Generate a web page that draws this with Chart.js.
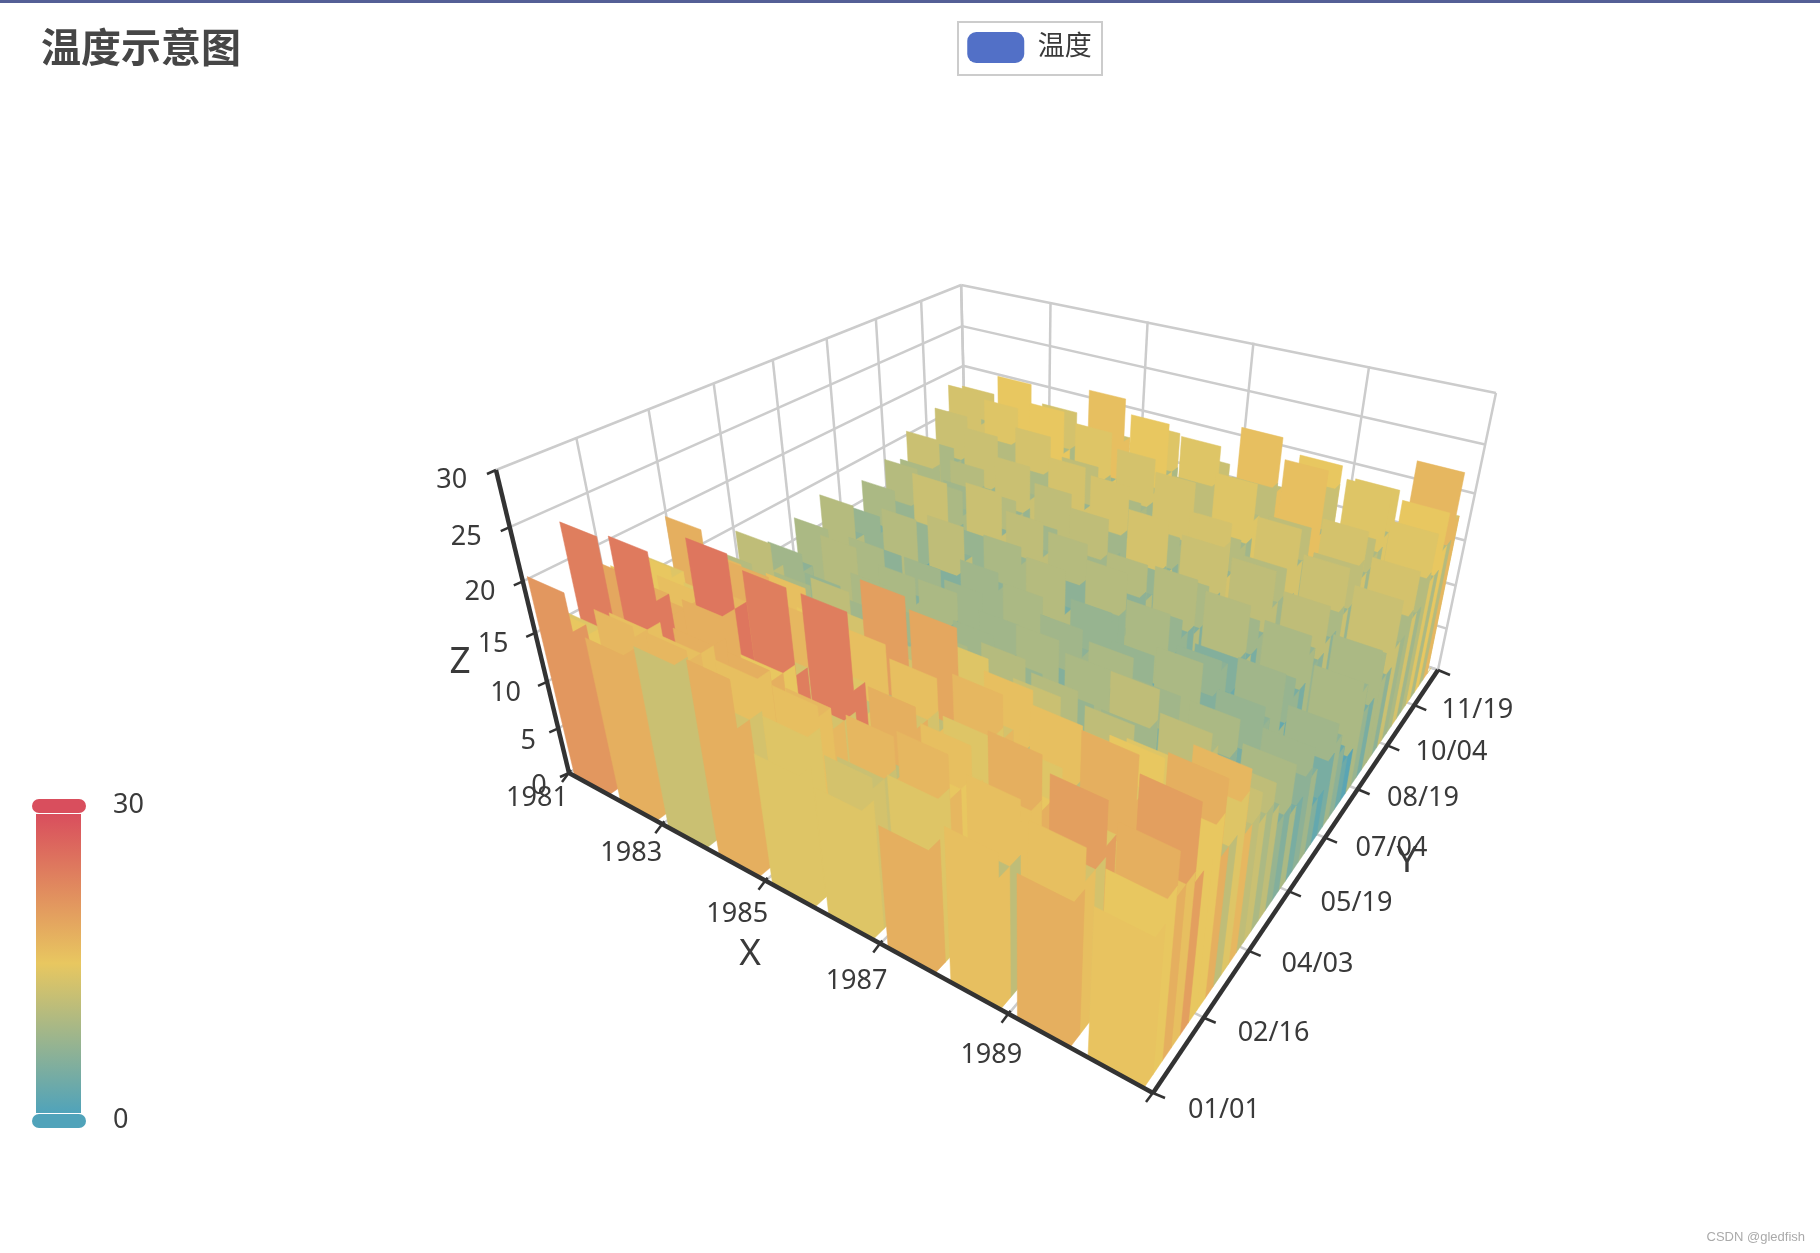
<!DOCTYPE html>
<html>
<head>
<meta charset="utf-8">
<title>温度示意图</title>
<script src="https://cdn.jsdelivr.net/npm/chart.js@4/dist/chart.umd.js"></script>
<style>
html, body { margin: 0; background: #fff; }
canvas { display: block; }
</style>
</head>
<body>
<canvas id="myChart" width="1820" height="1253"></canvas>
<script>
// temperature, one value every 8 days starting 01/01
const years = [1981, 1982, 1983, 1984, 1985, 1986, 1987, 1988, 1989, 1990];
const t1981 = [20.7,17,16,24,15,19,18,16,18,17,14,20,13,15,12,14,11,15,12,8,12,10,7,13,8,9,14,10,6,11,9,13,7,10,14,9,13,16,10,14,12,17,13,19,15,18];
const t1982 = [17,19,18,24.5,20,18,19,15,17,14,19,13,16,11,14,10,13,9,8,11,7,14,9,5,12,7,10,6,13,7,11,8,15,9,13,10,12,14,11,17,13,15,19,14,21,16];
const t1983 = [18.4,19,18,18,20,25,20,16,21,15,13,18,12,14,11,15,9,12,8,13,10,6,12,9,5,11,6,9,14,10,7,11,9,15,10,13,11,16,12,14,18,13,20,15,19,16];
const t1984 = [19.5,15,18,18,17,24,16,20,14,18,15,12,16,13,10,14,11,8,12,7,10,13,5,7,11,6,12,10,7,13,11,8,14,10,12,9,15,11,17,12,16,14,19,13,22,17];
const t1985 = [13.3,16,18,17,15,24,17,14,19,13,22,15,11,14,12,9,13,10,7,12,6,8,11,4,8,12,9,7,13,8,10,14,8,11,15,10,12,17,11,14,13,18,14,21,15,19];
const t1986 = [12.9,15,14,17,13,18,16,19,14,22,15,13,17,11,13,10,14,8,11,7,13,5,8,12,9,7,5,11,10,14,7,10,13,9,11,16,10,13,12,18,14,12,16,20,14,17];
const t1987 = [12.3,16,19,15,18,14,17,20,16,13,18,14,12,15,10,14,9,11,8,13,6,9,12,8,4,10,6,13,8,11,9,14,8,12,10,15,17,11,14,13,19,15,13,17,22,16];
const t1988 = [15.3,13,18,16,20,15,17,14,19,16,12,15,13,11,14,9,12,15,7,9,12,5,7,13,6,8,11,10,6,9,14,8,11,9,15,11,14,10,17,13,16,12,21,14,18,20];
const t1989 = [14.3,18,15,20,16,14,21,17,15,18,14,16,12,13,11,15,13,8,10,13,6,8,4,11,9,5,12,6,10,8,13,11,9,14,10,12,16,11,15,18,13,16,14,20,15,19];
const t1990 = [14.8,17,20,16,22,15,18,21,14,17,19,13,15,12,14,11,9,13,8,10,12,9,5,8,11,9,7,5,12,11,8,13,12,9,16,11,13,17,12,15,19,14,20,16,23,18];
const temps = [t1981, t1982, t1983, t1984, t1985, t1986, t1987, t1988, t1989, t1990];
// colour seen on the front plate of each year, and how far the colours sit from the heights along the year
const firstDayTone = [21, 18, 12, 18, 14, 14, 18, 16, 18, 15.5];
const toneShift = [0,-2,-2,0,-2,0,-3,-3,-3,-3,-2,-2,-3,-3,-3,-4,-4,-4,-4,-4,-4,-4,-3,-4,-3,-3,-4,-4,-3,-4,-4,-4,-3,-3,-4,-3,-4,-4,-4,-5,-5,-5,-5,-6,-6,-5];

const xTickLabels = ['1981', '1983', '1985', '1987', '1989'];
const yTickLabels = ['01/01', '02/16', '04/03', '05/19', '07/04', '08/19', '10/04', '11/19'];
const zTicks = [0, 5, 10, 15, 20, 25, 30];

const yearDays = 366, tickDays = 46, zMax = 30;

// the 3d box as the camera of the picture sees it
const floorCorners = [[569, 773], [1153, 1093], [1438, 670], [967, 512]];
const roofCorners = [[496, 470], [1181, 755], [1496, 393], [957.5, 285]];
const vanish = [1022.6, 2655];

function quadMap(q) {
  const [x0, y0] = q[0], [x1, y1] = q[1], [x2, y2] = q[2], [x3, y3] = q[3];
  const sx = x0 - x1 + x2 - x3, sy = y0 - y1 + y2 - y3;
  const dx1 = x1 - x2, dx2 = x3 - x2, dy1 = y1 - y2, dy2 = y3 - y2;
  const den = dx1 * dy2 - dx2 * dy1;
  const g = (sx * dy2 - dx2 * sy) / den, h = (dx1 * sy - sx * dy1) / den;
  const a = x1 - x0 + g * x1, b = x3 - x0 + h * x3;
  const d = y1 - y0 + g * y1, e = y3 - y0 + h * y3;
  return (u, v) => {
    const w = g * u + h * v + 1;
    return [(a * u + b * v + x0) / w, (d * u + e * v + y0) / w];
  };
}
const floorAt = quadMap(floorCorners), roofAt = quadMap(roofCorners);

function project(u, v, z) {
  const f = floorAt(u, v), r = roofAt(u, v);
  const rho = (vanish[1] - r[1]) / (vanish[1] - f[1]);
  const s = 1 / (1 - (z / zMax) * (1 - 1 / rho));
  return { x: vanish[0] + s * (f[0] - vanish[0]), y: vanish[1] + s * (f[1] - vanish[1]) };
}

const stops = [[80, 163, 186], [232, 199, 96], [217, 78, 93]];
function tempColor(t) {
  const p = Math.max(0, Math.min(1, t / zMax)) * 2;
  const i = p >= 1 ? 1 : 0, f = p - i;
  const c = [0, 1, 2].map(n => Math.round(stops[i][n] + (stops[i + 1][n] - stops[i][n]) * f));
  return `rgb(${c[0]},${c[1]},${c[2]})`;
}

class PolyController extends Chart.LineController {
  draw() {
    const ctx = this.chart.ctx, pts = this.getMeta().data;
    if (!pts.length) return;
    ctx.save();
    ctx.fillStyle = ctx.strokeStyle = this.getDataset().backgroundColor;
    ctx.lineWidth = 0.5;
    ctx.beginPath();
    pts.forEach((p, i) => i ? ctx.lineTo(p.x, p.y) : ctx.moveTo(p.x, p.y));
    ctx.closePath();
    ctx.fill();
    ctx.stroke();
    ctx.restore();
  }
}
PolyController.id = 'poly';
PolyController.defaults = Chart.LineController.defaults;
PolyController.overrides = Chart.LineController.overrides;
Chart.register(PolyController);

const marks = [];
function line(a, b, color, width) {
  marks.push({ type: 'line', data: [a, b], borderColor: color, borderWidth: width, pointRadius: 0, fill: false, tension: 0 });
}

// walls and floor
const gridColor = '#ccc';
const uTicks = xTickLabels.map((s, i) => i * 2 / years.length).concat(1);
const vTicks = yTickLabels.map((s, i) => i * tickDays / yearDays).concat(1);
zTicks.forEach(z => {
  line(project(0, 0, z), project(0, 1, z), gridColor, 2.5);
  line(project(0, 1, z), project(1, 1, z), gridColor, 2.5);
});
vTicks.forEach(v => {
  line(project(0, v, 0), project(0, v, zMax), gridColor, 2.5);
  line(project(0, v, 0), project(1, v, 0), gridColor, 2.5);
});
uTicks.forEach(u => {
  line(project(u, 1, 0), project(u, 1, zMax), gridColor, 2.5);
  line(project(u, 0, 0), project(u, 1, 0), gridColor, 2.5);
});

// bars, far ones first; a plate shows its front face and a side only as high as the next plate
for (let k = temps[0].length - 1; k >= 0; k--) {
  for (let i = 0; i < years.length; i++) {
    const t = temps[i][k];
    const next = k + 1 < temps[i].length ? temps[i][k + 1] : 0;
    const side = Math.min(t, next);
    const u0 = (i + 0.13) / years.length, u1 = (i + 0.88) / years.length;
    const v0 = k / temps[i].length, v1 = (k + 1) / temps[i].length;
    marks.push({
      type: 'poly',
      backgroundColor: tempColor(k === 0 ? firstDayTone[i] : t + toneShift[k]),
      pointRadius: 0,
      data: [project(u0, v0, 0), project(u1, v0, 0), project(u1, v1, 0), project(u1, v1, side), project(u1, v0, side), project(u1, v0, t), project(u0, v0, t)]
    });
  }
}

// axes
const axisColor = '#333';
line(project(0, 0, 0), project(1, 0, 0), axisColor, 4.5);
line(project(1, 0, 0), project(1, 1, 0), axisColor, 4.5);
line(project(0, 0, 0), project(0, 0, zMax), axisColor, 4.5);
uTicks.forEach(u => {
  const p = project(u, 0, 0);
  line({ x: p.x + 2, y: p.y - 3 }, { x: p.x - 7, y: p.y + 9 }, axisColor, 2.5);
});
vTicks.forEach(v => {
  const p = project(1, v, 0);
  line(p, { x: p.x + 12, y: p.y + 5 }, axisColor, 2.5);
});
zTicks.forEach(z => {
  const p = project(0, 0, z);
  line(p, { x: p.x - 9, y: p.y + 4 }, axisColor, 2.5);
});

marks.push({ type: 'poly', label: '温度', backgroundColor: '#5270c7', borderWidth: 0, pointRadius: 0, data: [] });
marks.forEach((m, i) => { m.order = marks.length - i; });

const font = 'Noto Sans, Noto Sans CJK SC, sans-serif';
const textColor = '#3a3a3a';

const extras = {
  id: 'extras',
  afterLayout(c) {
    // data units of both hidden scales are canvas pixels
    c.scales.x.min = c.chartArea.left; c.scales.x.max = c.chartArea.right; c.scales.x.configure();
    c.scales.y.min = c.chartArea.top; c.scales.y.max = c.chartArea.bottom; c.scales.y.configure();
  },
  afterDraw(c) {
    const ctx = c.ctx;
    ctx.save();
    ctx.fillStyle = '#545f96';
    ctx.fillRect(0, 0, 1820, 3);

    // legend frame
    ctx.strokeStyle = '#ccc';
    ctx.lineWidth = 2;
    ctx.strokeRect(958, 22, 144, 53);

    // visual map
    const g = ctx.createLinearGradient(0, 814, 0, 1113);
    g.addColorStop(0, tempColor(30));
    g.addColorStop(0.5, tempColor(15));
    g.addColorStop(1, tempColor(0));
    ctx.fillStyle = g;
    ctx.fillRect(36, 814, 45, 299);
    ctx.fillStyle = tempColor(30);
    ctx.beginPath(); ctx.roundRect(32, 799, 54, 14, 7); ctx.fill();
    ctx.fillStyle = tempColor(0);
    ctx.beginPath(); ctx.roundRect(32, 1114, 54, 14, 7); ctx.fill();

    ctx.fillStyle = textColor;
    ctx.textBaseline = 'middle';
    ctx.font = '27px ' + font;
    ctx.textAlign = 'left';
    ctx.fillText('30', 113, 805);
    ctx.fillText('0', 113, 1120);

    ctx.textAlign = 'center';
    xTickLabels.forEach((s, i) => {
      const u = uTicks[i], p = project(u, 0, 0);
      ctx.fillText(s, p.x - 32 + 23 * u * u, p.y + 25 + 21 * u);
    });
    yTickLabels.forEach((s, i) => {
      const v = vTicks[i], p = project(1, v, 0);
      ctx.fillText(s, p.x + 71 - 9 * v, p.y + 4 + 13 * (1 - v));
    });
    zTicks.forEach(z => {
      const p = project(0, 0, z);
      ctx.fillText(String(z), p.x - (z < 10 ? 30 : 40 + z * 0.14), p.y + 13 - z * 0.1);
    });

    ctx.font = '37px ' + font;
    ctx.fillText('X', 750, 954);
    ctx.fillText('Y', 1407, 861);
    ctx.fillText('Z', 460, 662);

    ctx.font = '13px Liberation Sans, sans-serif';
    ctx.fillStyle = '#aaa';
    ctx.textAlign = 'right';
    ctx.fillText('CSDN @gledfish', 1805, 1237);
    ctx.restore();
  }
};

const myChart = new Chart(document.getElementById('myChart').getContext('2d'), {
  type: 'line',
  data: { datasets: marks },
  plugins: [extras],
  options: {
    responsive: false,
    animation: false,
    events: [],
    // negative right padding pushes the centred legend to where the picture has it
    layout: { padding: { left: 41, right: -198 } },
    scales: {
      x: { type: 'linear', display: false, min: 41, max: 2018 },
      y: { type: 'linear', display: false, reverse: true, min: 0, max: 1253 }
    },
    plugins: {
      tooltip: { enabled: false },
      title: {
        display: true,
        text: '温度示意图',
        align: 'start',
        color: '#464646',
        font: { family: font, size: 40, weight: 'bold', lineHeight: 1.2 },
        padding: { top: 27, bottom: -54 }
      },
      legend: {
        display: true,
        position: 'top',
        labels: {
          filter: item => item.text === '温度',
          boxWidth: 57,
          boxHeight: 31,
          useBorderRadius: true,
          borderRadius: 9,
          color: textColor,
          font: { family: font, size: 27 },
          padding: 11
        }
      }
    }
  }
});
</script>
</body>
</html>
